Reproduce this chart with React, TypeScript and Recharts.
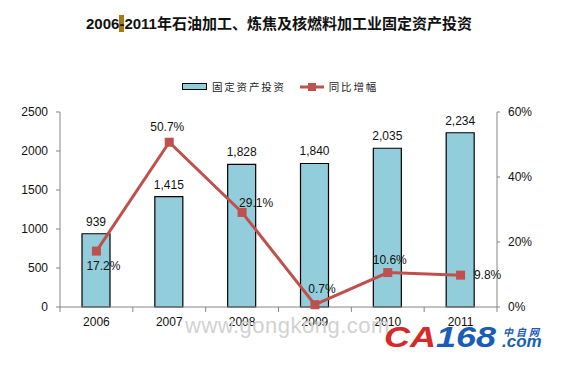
import React from 'react';
import {
  ComposedChart,
  Bar,
  Line,
  XAxis,
  YAxis,
  Legend,
  LabelList,
} from 'recharts';

const years = ['2006', '2007', '2008', '2009', '2010', '2011'];
const investment = [939, 1415, 1828, 1840, 2035, 2234];
const growth = [17.2, 50.7, 29.1, 0.7, 10.6, 9.8];
const leftTicks = [0, 500, 1000, 1500, 2000, 2500];
const rightTicks = [0, 20, 40, 60];

// where each growth label sits relative to its marker
const growthLabelShift = [
  [7, 15],
  [-2, -15],
  [14, -9],
  [7, -16],
  [2, -13],
  [27, 0],
];

const BAR_COLOR = '#92CDDC';
const LINE_COLOR = '#C0504D';
const AXIS_COLOR = '#868686';
const FONT = '"Liberation Sans", Arial, sans-serif';
const HALF_BAND = 437 / years.length / 2;
const YEAR_GAP = 15;

const data = years.map((year, i) => ({
  year,
  investment: investment[i],
  growth: growth[i],
}));

// year label plus tick marks on the category boundaries
const YearTick = (props: any) => {
  const { x, y, payload, index } = props;
  const axisY = y - YEAR_GAP;
  return (
    <g>
      <line x1={x - HALF_BAND} y1={axisY} x2={x - HALF_BAND} y2={axisY + 5} stroke={AXIS_COLOR} />
      {index === years.length - 1 && (
        <line x1={x + HALF_BAND} y1={axisY} x2={x + HALF_BAND} y2={axisY + 5} stroke={AXIS_COLOR} />
      )}
      <text
        x={x}
        y={y}
        dy="0.35em"
        textAnchor="middle"
        fontSize={12}
        fontFamily={FONT}
        fill="#111"
      >
        {payload.value}
      </text>
    </g>
  );
};

const GrowthLabel = (props: any) => {
  const { x, y, value, index } = props;
  const [dx, dy] = growthLabelShift[index] || [0, -12];
  return (
    <text
      x={x + dx}
      y={y + dy}
      textAnchor="middle"
      dominantBaseline="central"
      fontSize={12}
      fontFamily={FONT}
      fill="#111"
    >
      {`${value}%`}
    </text>
  );
};

const LegendContent = () => (
  <div
    style={{
      display: 'flex',
      justifyContent: 'center',
      alignItems: 'center',
      fontSize: 10.5,
      letterSpacing: 1.8,
      color: '#222',
      fontFamily: '"Noto Sans CJK SC", sans-serif',
      paddingRight: 2,
    }}
  >
    <span
      style={{
        display: 'inline-block',
        width: 23,
        height: 5,
        background: BAR_COLOR,
        border: '1px solid #000',
        marginRight: 5,
      }}
    />
    <span style={{ marginRight: 14 }}>固定资产投资</span>
    <svg width={24} height={10} style={{ marginRight: 5 }}>
      <line x1={0} y1={5} x2={24} y2={5} stroke={LINE_COLOR} strokeWidth={3} />
      <rect x={8} y={1} width={8} height={8} fill={LINE_COLOR} />
    </svg>
    <span>同比增幅</span>
  </div>
);

export default function App() {
  return (
    <div
      style={{
        position: 'absolute',
        left: 0,
        top: 0,
        width: 562,
        height: 367,
        background: '#fff',
        overflow: 'hidden',
      }}
    >
      <div
        style={{
          position: 'absolute',
          left: 0,
          top: 15,
          width: 558,
          textAlign: 'center',
          fontFamily: '"Liberation Sans", "Noto Sans CJK SC", sans-serif',
          fontWeight: 'bold',
          fontSize: 15,
          color: '#111',
          lineHeight: '18px',
        }}
      >
        2006<span style={{ background: '#A67C12' }}>-</span>2011年石油加工、炼焦及核燃料加工业固定资产投资
      </div>
      <ComposedChart
        width={562}
        height={367}
        data={data}
        margin={{ top: 112, right: 10, bottom: 30, left: 10 }}
        barCategoryGap={0}
      >
        <XAxis
          dataKey="year"
          axisLine={{ stroke: AXIS_COLOR }}
          tickLine={false}
          tickSize={0}
          tick={<YearTick />}
          tickMargin={YEAR_GAP}
          height={30}
        />
        <YAxis
          yAxisId="left"
          domain={[0, 2500]}
          ticks={leftTicks}
          width={50}
          axisLine={{ stroke: AXIS_COLOR }}
          tickLine={{ stroke: AXIS_COLOR }}
          tickSize={4}
          tickMargin={8}
          tick={{ fontSize: 12, fill: '#111', fontFamily: FONT }}
        />
        <YAxis
          yAxisId="right"
          orientation="right"
          domain={[0, 60]}
          ticks={rightTicks}
          tickFormatter={(v) => `${v}%`}
          width={55}
          axisLine={{ stroke: AXIS_COLOR }}
          tickLine={{ stroke: AXIS_COLOR }}
          tickSize={3}
          tickMargin={8}
          tick={{ fontSize: 12, fill: '#111', fontFamily: FONT }}
        />
        <Legend
          layout="horizontal"
          verticalAlign="middle"
          align="center"
          content={<LegendContent />}
          wrapperStyle={{ top: 79, left: 0, width: 562 }}
        />
        <Bar
          dataKey="investment"
          yAxisId="left"
          fill={BAR_COLOR}
          stroke="#000"
          strokeWidth={1.2}
          barSize={28}
          isAnimationActive={false}
        >
          <LabelList
            dataKey="investment"
            position="top"
            offset={8}
            formatter={(v: any) => Number(v).toLocaleString('en-US')}
            style={{ fontSize: 12, fill: '#111', fontFamily: FONT }}
          />
        </Bar>
        <Line
          dataKey="growth"
          yAxisId="right"
          stroke={LINE_COLOR}
          strokeWidth={3}
          isAnimationActive={false}
          dot={(p: any) => (
            <rect
              key={`dot-${p.index}`}
              x={p.cx - 4.5}
              y={p.cy - 4.5}
              width={9}
              height={9}
              fill={LINE_COLOR}
            />
          )}
          activeDot={false}
        >
          <LabelList dataKey="growth" content={<GrowthLabel />} />
        </Line>
      </ComposedChart>
      <div
        style={{
          position: 'absolute',
          left: 185,
          top: 313,
          fontFamily: FONT,
          fontSize: 22,
          letterSpacing: 0.5,
          color: '#d2d2d2',
          pointerEvents: 'none',
        }}
      >
        www.gongkong.com
      </div>
      <div
        style={{
          position: 'absolute',
          left: 384,
          top: 320,
          fontFamily: FONT,
          fontWeight: 'bold',
          fontStyle: 'italic',
          fontSize: 30,
          lineHeight: '34px',
          whiteSpace: 'nowrap',
          transform: 'scaleX(1.2)',
          transformOrigin: 'left top',
        }}
      >
        <span style={{ color: '#D62A2A' }}>CA</span>
        <span style={{ color: '#1A5DB8' }}>168</span>
      </div>
      <div
        style={{
          position: 'absolute',
          left: 503,
          top: 324,
          fontFamily: '"Noto Sans CJK SC", sans-serif',
          fontSize: 10,
          letterSpacing: 3,
          color: '#1A5DB8',
          fontWeight: 'bold',
          fontStyle: 'italic',
        }}
      >
        中自网
      </div>
      <div
        style={{
          position: 'absolute',
          left: 502,
          top: 332,
          fontFamily: FONT,
          fontSize: 17,
          color: '#1A5DB8',
          fontWeight: 'bold',
          fontStyle: 'italic',
        }}
      >
        .com
      </div>
    </div>
  );
}
